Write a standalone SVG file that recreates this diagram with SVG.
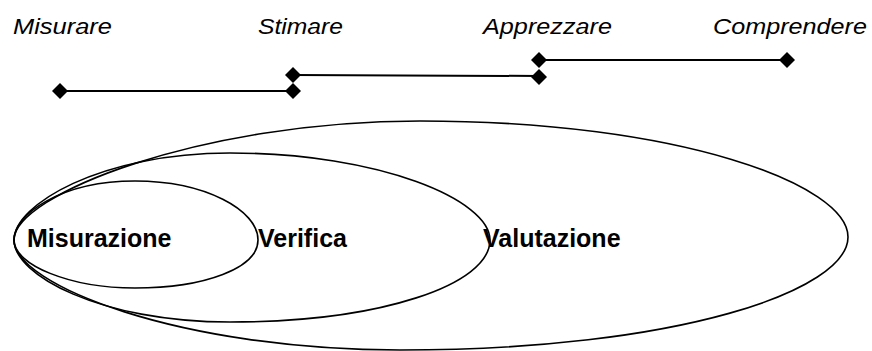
<svg xmlns="http://www.w3.org/2000/svg" width="872" height="351" viewBox="0 0 872 351">
<defs>
<style>
.lbl{font-family:"Liberation Sans",Arial,sans-serif;font-style:italic;font-size:22px;fill:#000}
.big{font-family:"Liberation Sans",Arial,sans-serif;font-weight:bold;font-size:25px;fill:#000}
.shape{fill:none;stroke:#000;stroke-width:1.6}
.ln{stroke:#000;stroke-width:2;fill:none}
</style>
<path id="dia" d="M0,-8 L8,0 L0,8 L-8,0 Z" fill="#000"/>
</defs>
<rect width="872" height="351" fill="#fff"/>
<g id="timeline">
<text class="lbl" x="13" y="34" textLength="99" lengthAdjust="spacingAndGlyphs">Misurare</text>
<text class="lbl" x="258" y="34" textLength="85" lengthAdjust="spacingAndGlyphs">Stimare</text>
<text class="lbl" x="483" y="34" textLength="129" lengthAdjust="spacingAndGlyphs">Apprezzare</text>
<text class="lbl" x="713" y="34" textLength="154" lengthAdjust="spacingAndGlyphs">Comprendere</text>
</g>
<g id="connectors">
<line class="ln" x1="60" y1="91" x2="293" y2="91"/>
<line class="ln" x1="293" y1="75" x2="539" y2="76"/>
<line class="ln" x1="539" y1="60" x2="787" y2="60"/>
<use href="#dia" x="60" y="91"/>
<use href="#dia" x="293" y="91"/>
<use href="#dia" x="293" y="75"/>
<use href="#dia" x="539" y="77"/>
<use href="#dia" x="539" y="60"/>
<use href="#dia" x="787" y="60"/>
</g>
<g id="valutazione">
<path class="shape" d="M14,240 C14,195 200,121 420,121 C680,121 848,185 848,237 C848,290 680,350 400,350 C180,350 14,285 14,240 Z"/>
<text class="big" x="483" y="247">Valutazione</text>
</g>
<g id="verifica">
<path class="shape" d="M14,240 C14,205 100,153 230,153 C380,153 490,200 490,240 C490,285 380,322 230,322 C100,322 14,275 14,240 Z"/>
<text class="big" x="258" y="247">Verifica</text>
</g>
<g id="misurazione">
<path class="shape" d="M14,240 C14,215 60,181 135,181 C205,181 258,210 258,240 C258,268 205,288 135,288 C70,288 14,265 14,240 Z"/>
<text class="big" x="27" y="247">Misurazione</text>
</g>
</svg>
